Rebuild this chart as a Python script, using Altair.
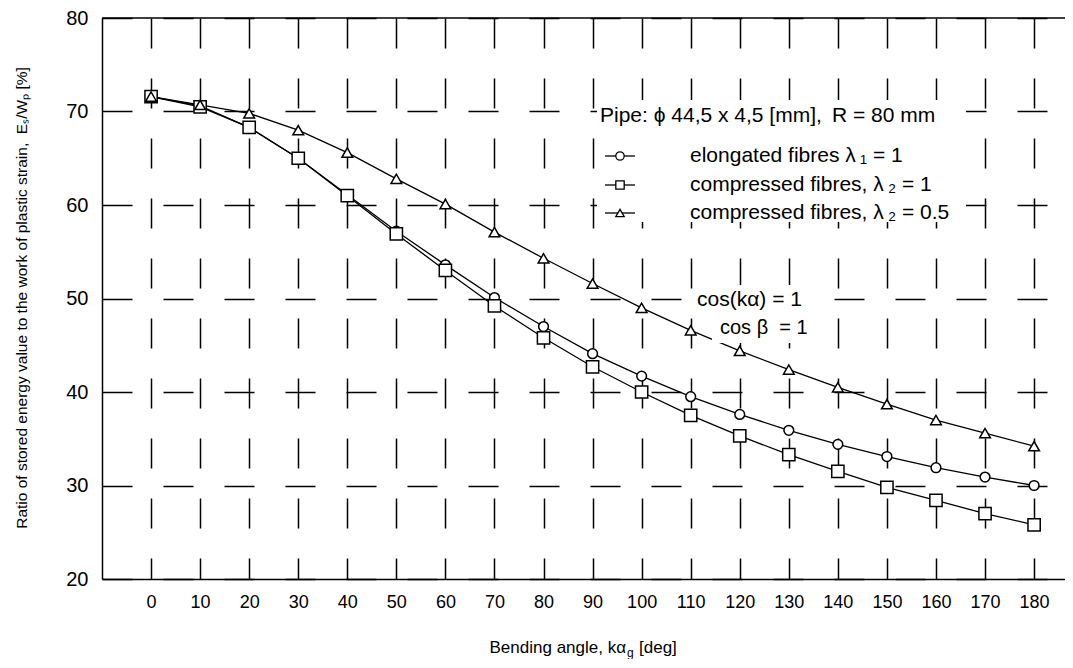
import altair as alt
import pandas as pd

# ---------------- data ----------------
angles = [0, 10, 20, 30, 40, 50, 60, 70, 80, 90, 100, 110, 120, 130, 140, 150, 160, 170, 180]
elongated_l1 = [71.6, 70.6, 68.3, 65.0, 61.1, 57.2, 53.6, 50.1, 47.0, 44.1, 41.7, 39.5, 37.6, 35.9, 34.4, 33.1, 31.9, 30.9, 30.0]
compressed_l1 = [71.6, 70.5, 68.3, 65.0, 61.0, 56.9, 53.0, 49.2, 45.8, 42.7, 40.0, 37.5, 35.3, 33.3, 31.5, 29.8, 28.4, 27.0, 25.8]
compressed_l05 = [71.6, 70.7, 69.8, 68.0, 65.6, 62.8, 60.1, 57.1, 54.3, 51.6, 49.0, 46.6, 44.4, 42.4, 40.5, 38.7, 37.0, 35.6, 34.2]

series_names = ["elongated fibres λ\u2009₁ = 1", "compressed fibres, λ\u2009₂ = 1", "compressed fibres, λ\u2009₂ = 0.5"]
series_values = [elongated_l1, compressed_l1, compressed_l05]
series_shapes = ["circle", "square", "triangle-up"]
series_sizes = [95, 150, 115]

y_ticks = [20, 30, 40, 50, 60, 70, 80]
x_domain = [-10, 186.3]
y_domain = [20, 80]

legend_title_a = "Pipe: ϕ 44,5 x 4,5 [mm],"
legend_title_b = "R = 80 mm"
note_1 = "cos(kα) = 1"
note_2 = "cos β\u00a0\u00a0= 1"
y_title = "Ratio of stored energy value to the work of plastic strain,\u00a0\u00a0Eₛ/Wₚ [%]"
x_title_main = "Bending angle, kα"
x_title_sub = "g"
x_title_end = "[deg]"

# ---------------- build ----------------
FONT = "Liberation Sans"
W, H = 963, 561

rows = []
for name, vals in zip(series_names, series_values):
    for a, v in zip(angles, vals):
        rows.append({"angle": a, "value": v, "series": name})
df = pd.DataFrame(rows)

xenc = alt.X(
    "angle:Q",
    scale=alt.Scale(domain=x_domain, nice=False, zero=False),
    axis=alt.Axis(
        values=angles, title=None, ticks=False, labelFontSize=18,
        labelFont="Liberation Sans Narrow, Liberation Sans", labelColor="black",
        labelPadding=14, grid=True, gridColor="black", gridOpacity=1,
        gridWidth=1.5, gridDash=[30, 30], domainColor="black", domainWidth=1.5,
        labelFlush=False,
    ),
)
yenc = alt.Y(
    "value:Q",
    scale=alt.Scale(domain=y_domain, nice=False, zero=False),
    axis=alt.Axis(
        values=y_ticks, title=None, ticks=False, labelFontSize=20, labelFont=FONT,
        labelColor="black", labelPadding=14, grid=True, gridColor="black",
        gridOpacity=1, gridWidth=1.5, gridDash=[30, 31], domainColor="black",
        domainWidth=1.5, labelFlush=False,
    ),
)

base = alt.Chart(df)
lines = base.mark_line(color="black", strokeWidth=1.3).encode(x=xenc, y=yenc, detail="series:N")

layers = [lines]
for name, shp, sz in zip(series_names, series_shapes, series_sizes):
    layers.append(
        base.transform_filter(alt.datum.series == name)
        .mark_point(shape=shp, size=sz, filled=True, fill="white", stroke="black",
                    strokeWidth=1.5, opacity=1)
        .encode(x=xenc, y=yenc)
    )

frame_df = pd.DataFrame({"v": [y_domain[1]]})
layers.append(alt.Chart(frame_df).mark_rule(color="black", strokeWidth=1.5).encode(y=alt.Y("v:Q")))

one = pd.DataFrame({"k": [0]})

def rect(x1, x2, y1, y2):
    return alt.Chart(one).mark_rect(color="white", opacity=1).encode(
        x=alt.value(x1), x2=alt.value(x2), y=alt.value(y1), y2=alt.value(y2))

def text(t, x, y, size=21, align="left", angle=0, dy=0):
    return alt.Chart(one).mark_text(
        text=t, font=FONT, fontSize=size, align=align, baseline="middle",
        color="black", angle=angle, dy=dy,
    ).encode(x=alt.value(x), y=alt.value(y))

# white boxes behind legend and note (plot-relative pixels)
layers.append(rect(495, 864, 82, 204))
layers.append(rect(594, 706, 267, 295))
layers.append(rect(610, 712, 295, 325))

# legend
layers.append(text(legend_title_a, 498, 98))
layers.append(text(legend_title_b, 730, 98))
row_y = [138, 167, 195]
for name, shp, yy in zip(series_names, series_shapes, row_y):
    layers.append(alt.Chart(one).mark_rule(color="black", strokeWidth=1.3).encode(
        x=alt.value(503), x2=alt.value(533), y=alt.value(yy)))
    layers.append(alt.Chart(one).mark_point(shape=shp, size=70, filled=True, fill="white",
                                            stroke="black", strokeWidth=1.3, opacity=1)
                  .encode(x=alt.value(518), y=alt.value(yy)))
    layers.append(text(name, 588, yy))

# note
layers.append(text(note_1, 595, 282, size=21))
layers.append(text(note_2, 618, 310, size=20))

# axis titles
layers.append(text(y_title, -80, 280, size=15.5, align="center", angle=270))
layers.append(text(x_title_main, 524, 630, size=17, align="right"))
layers.append(text(x_title_sub, 525, 630, size=12, align="left", dy=5))
layers.append(text(x_title_end, 537, 630, size=17, align="left"))

chart = (
    alt.layer(*layers)
    .properties(
        width=W, height=H,
        padding={"left": 94, "top": 10, "right": 0, "bottom": 80},
        autosize=alt.AutoSizeParams(type="none"),
        background="white",
    )
    .configure_view(stroke=None)
)

chart.save("out.html", embed_options={"renderer": "svg", "actions": False})
